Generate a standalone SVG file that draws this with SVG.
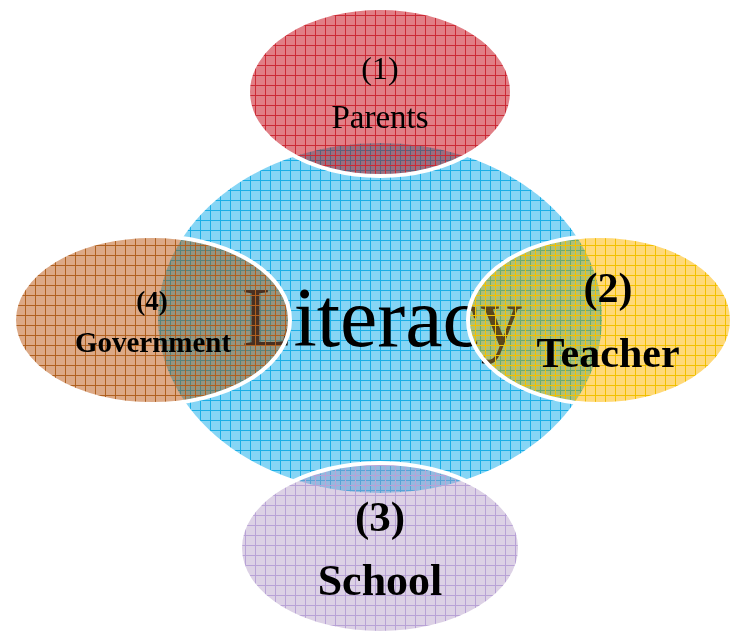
<svg xmlns="http://www.w3.org/2000/svg" width="735" height="639" viewBox="0 0 735 639">
  <style>
    .ring { fill: none; stroke: #ffffff; stroke-width: 4; }
    .veil { opacity: 0.35; }
    .tint { mix-blend-mode: multiply; }
    .lbl { font-family: "Liberation Serif", "Times New Roman", serif; fill: #000000; text-anchor: middle; }
    .bold { font-weight: bold; }
  </style>
  <defs>
    <!-- grid-paper fills, 10px cells -->
    <pattern id="gridBlue" patternUnits="userSpaceOnUse" width="10" height="10">
      <rect width="10" height="10" fill="#86d5f5"/>
      <path d="M0 0.5H10M0.5 0V10" stroke="#1aaee6" stroke-width="1"/>
    </pattern>
    <!-- line-only grids for the outer ellipses, shifted half a cell -->
    <pattern id="linesRed" patternUnits="userSpaceOnUse" x="5" y="5" width="10" height="10">
      <path d="M0 0.5H10M0.5 0V10" stroke="#cc2a35" stroke-width="1"/>
    </pattern>
    <pattern id="linesBrown" patternUnits="userSpaceOnUse" x="5" y="5" width="10" height="10">
      <path d="M0 0.5H10M0.5 0V10" stroke="#b0601f" stroke-width="1"/>
    </pattern>
    <pattern id="linesGold" patternUnits="userSpaceOnUse" x="5" y="5" width="10" height="10">
      <path d="M0 0.5H10M0.5 0V10" stroke="#f2c000" stroke-width="1"/>
    </pattern>
    <pattern id="linesLilac" patternUnits="userSpaceOnUse" x="5" y="5" width="10" height="10">
      <path d="M0 0.5H10M0.5 0V10" stroke="#b8a2d6" stroke-width="1"/>
    </pattern>
  </defs>

  <g id="connectors"/>

  <!-- central concept -->
  <g id="literacy">
    <ellipse cx="380" cy="318" rx="222" ry="175" fill="url(#gridBlue)"/>
    <text class="lbl" x="382" y="346" font-size="84">Literacy</text>
  </g>

  <!-- surrounding factors: light veil, multiplied tint, grid lines, white rim -->
  <g id="parents">
    <ellipse class="veil" cx="380" cy="92" rx="132" ry="84" fill="#e9959b"/>
    <ellipse class="tint" cx="380" cy="92" rx="132" ry="84" fill="#e9959b"/>
    <ellipse cx="380" cy="92" rx="132" ry="84" fill="url(#linesRed)"/>
    <ellipse class="ring" cx="380" cy="92" rx="132" ry="84"/>
    <text class="lbl" x="380" y="79" font-size="32">(1)</text>
    <text class="lbl" x="380" y="128" font-size="33">Parents</text>
  </g>

  <g id="government">
    <ellipse class="veil" cx="152" cy="320" rx="138" ry="84" fill="#e4bb9b"/>
    <ellipse class="tint" cx="152" cy="320" rx="138" ry="84" fill="#e4bb9b"/>
    <ellipse cx="152" cy="320" rx="138" ry="84" fill="url(#linesBrown)"/>
    <ellipse class="ring" cx="152" cy="320" rx="138" ry="84"/>
    <text class="lbl bold" x="152" y="310" font-size="27">(4)</text>
    <text class="lbl bold" x="153" y="352" font-size="29">Government</text>
  </g>

  <g id="teacher">
    <ellipse class="veil" cx="600" cy="320" rx="132" ry="84" fill="#ffe28f"/>
    <ellipse class="tint" cx="600" cy="320" rx="132" ry="84" fill="#ffe28f"/>
    <ellipse cx="600" cy="320" rx="132" ry="84" fill="url(#linesGold)"/>
    <ellipse class="ring" cx="600" cy="320" rx="132" ry="84"/>
    <text class="lbl bold" x="608" y="302" font-size="42">(2)</text>
    <text class="lbl bold" x="608" y="367" font-size="42">Teacher</text>
  </g>

  <g id="school">
    <ellipse class="veil" cx="380" cy="548" rx="140" ry="85" fill="#e4dcec"/>
    <ellipse class="tint" cx="380" cy="548" rx="140" ry="85" fill="#e4dcec"/>
    <ellipse cx="380" cy="548" rx="140" ry="85" fill="url(#linesLilac)"/>
    <ellipse class="ring" cx="380" cy="548" rx="140" ry="85"/>
    <text class="lbl bold" x="380" y="531" font-size="43">(3)</text>
    <text class="lbl bold" x="380" y="595" font-size="44">School</text>
  </g>
</svg>
